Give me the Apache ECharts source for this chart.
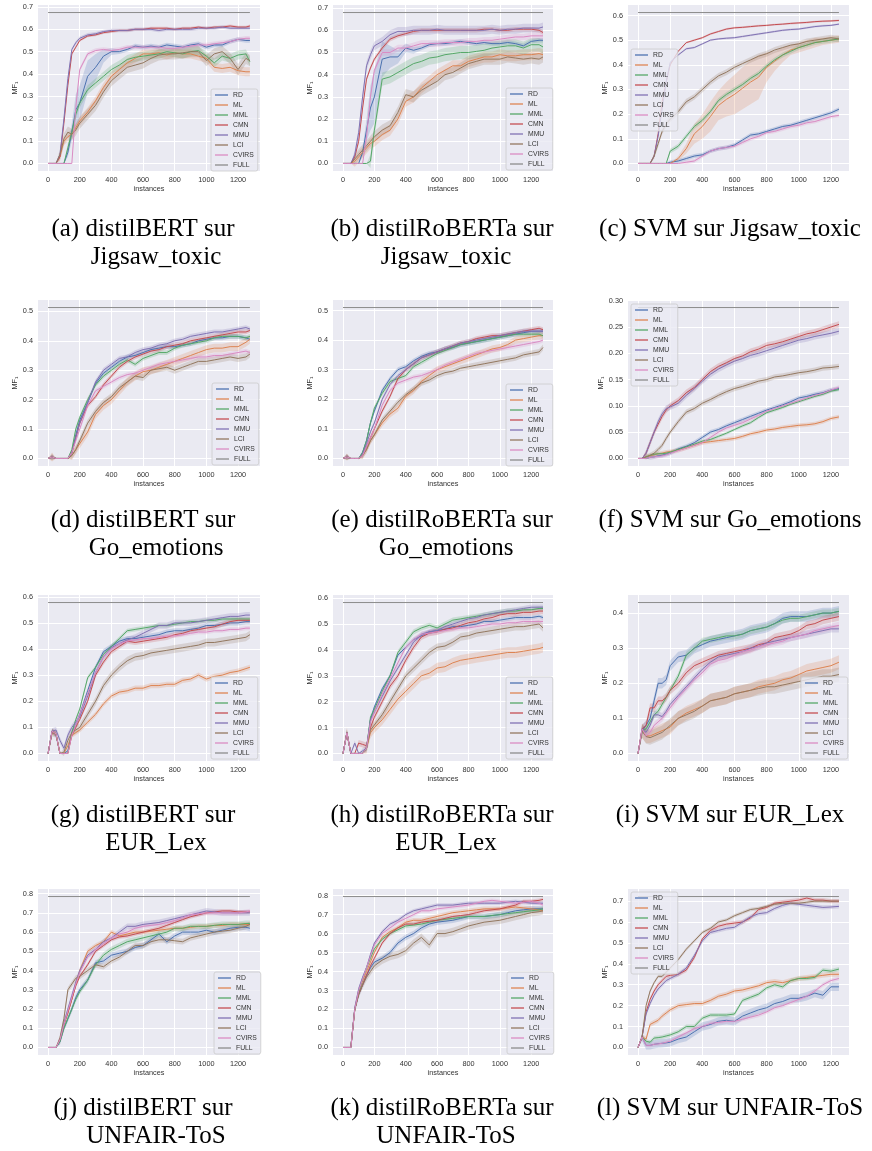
<!DOCTYPE html>
<html>
<head>
<meta charset="utf-8">
<script src="https://cdn.jsdelivr.net/npm/echarts@6/dist/echarts.min.js"></script>
<style>
html,body{margin:0;padding:0;background:#fff;}
#chart{width:872px;height:1151px;}
</style>
</head>
<body>
<div id="chart"></div>
<script>
// ---------------- DATA ----------------
const SERIES_NAMES = ['RD','ML','MML','CMN','MMU','LCI','CVIRS','FULL'];
const COLORS = ['#4c72b0','#dd8452','#55a868','#c44e52','#8172b3','#937860','#da8bc3','#8c8c8c'];

// instances (x) sampled for transformer models and SVM
const X_TRANSFORMER = [0,25,50,75,100,125,150,175,200,250,300,350,400,450,500,550,600,650,700,750,800,850,900,950,1000,1050,1100,1150,1200,1250,1275];
const X_SVM = [0,25,50,75,100,125,150,175,200,250,300,350,400,450,500,550,600,650,700,750,800,850,900,950,1000,1050,1100,1150,1200,1250];
const X_TICKS = [0,200,400,600,800,1000,1200];

const Y_TICKS_08 = [0,0.1,0.2,0.3,0.4,0.5,0.6,0.7,0.8];
const Y_TICKS_07 = [0,0.1,0.2,0.3,0.4,0.5,0.6,0.7];
const Y_TICKS_06 = [0,0.1,0.2,0.3,0.4,0.5,0.6];
const Y_TICKS_05 = [0,0.1,0.2,0.3,0.4,0.5];
const Y_TICKS_04 = [0,0.1,0.2,0.3,0.4];
const Y_TICKS_030 = [0,0.05,0.10,0.15,0.20,0.25,0.30];

// FULL (whole training set) score per panel a..l
const FULL_SCORES = [0.675,0.68,0.612,0.513,0.51,0.287,0.578,0.583,0.43,0.785,0.795,0.722];

const CAPTIONS = [
  ['(a) distilBERT sur','Jigsaw_toxic'],
  ['(b) distilRoBERTa sur','Jigsaw_toxic'],
  ['(c) SVM sur Jigsaw_toxic'],
  ['(d) distilBERT sur','Go_emotions'],
  ['(e) distilRoBERTa sur','Go_emotions'],
  ['(f) SVM sur Go_emotions'],
  ['(g) distilBERT sur','EUR_Lex'],
  ['(h) distilRoBERTa sur','EUR_Lex'],
  ['(i) SVM sur EUR_Lex'],
  ['(j) distilBERT sur','UNFAIR-ToS'],
  ['(k) distilRoBERTa sur','UNFAIR-ToS'],
  ['(l) SVM sur UNFAIR-ToS']
];

// (a) distilBERT / Jigsaw_toxic
const VALUES_A = {
  RD:   [0,0,0,0,0,0.05,0.14,0.24,0.27,0.39,0.43,0.48,0.50,0.50,0.51,0.525,0.52,0.525,0.52,0.53,0.525,0.52,0.53,0.535,0.52,0.53,0.53,0.545,0.555,0.55,0.55],
  ML:   [0,0,0,0.03,0.10,0.12,0.13,0.16,0.19,0.23,0.28,0.34,0.39,0.42,0.45,0.47,0.49,0.49,0.495,0.485,0.495,0.49,0.49,0.48,0.47,0.43,0.425,0.43,0.415,0.41,0.41],
  MML:  [0,0,0,0,0,0.07,0.14,0.22,0.27,0.33,0.36,0.39,0.42,0.44,0.465,0.475,0.48,0.485,0.49,0.5,0.495,0.49,0.5,0.505,0.48,0.45,0.48,0.47,0.485,0.49,0.455],
  CMN:  [0,0,0,0.03,0.18,0.35,0.49,0.52,0.55,0.57,0.575,0.585,0.59,0.595,0.595,0.6,0.6,0.605,0.605,0.605,0.6,0.605,0.605,0.61,0.605,0.61,0.61,0.615,0.61,0.61,0.615],
  MMU:  [0,0,0,0.04,0.2,0.38,0.51,0.54,0.56,0.575,0.58,0.59,0.595,0.595,0.595,0.6,0.6,0.6,0.595,0.6,0.6,0.6,0.6,0.605,0.605,0.605,0.61,0.605,0.605,0.605,0.605],
  LCI:  [0,0,0,0.04,0.11,0.14,0.13,0.15,0.18,0.22,0.26,0.32,0.37,0.4,0.43,0.44,0.45,0.47,0.485,0.49,0.49,0.495,0.5,0.5,0.46,0.49,0.5,0.47,0.42,0.47,0.46],
  CVIRS:[0,0,0,0,0,0,0,0.25,0.42,0.49,0.505,0.51,0.505,0.51,0.52,0.52,0.52,0.52,0.52,0.515,0.515,0.52,0.525,0.53,0.53,0.535,0.54,0.545,0.555,0.56,0.56]
};
// (b) distilRoBERTa / Jigsaw_toxic
const VALUES_B = {
  RD:   [0,0,0,0,0,0.05,0.15,0.25,0.3,0.47,0.48,0.48,0.52,0.51,0.52,0.535,0.54,0.54,0.545,0.55,0.545,0.54,0.545,0.54,0.54,0.545,0.54,0.53,0.55,0.555,0.555],
  ML:   [0,0,0,0.01,0.03,0.05,0.07,0.09,0.1,0.13,0.15,0.2,0.28,0.3,0.34,0.37,0.4,0.42,0.44,0.44,0.46,0.47,0.48,0.48,0.49,0.485,0.485,0.49,0.49,0.495,0.49],
  MML:  [0,0,0,0,0,0,0,0.01,0.15,0.38,0.39,0.41,0.43,0.45,0.46,0.475,0.48,0.49,0.495,0.5,0.5,0.505,0.51,0.52,0.525,0.53,0.53,0.52,0.535,0.535,0.525],
  CMN:  [0,0,0,0.03,0.1,0.25,0.38,0.43,0.47,0.52,0.56,0.575,0.585,0.595,0.6,0.6,0.6,0.6,0.6,0.6,0.6,0.6,0.605,0.605,0.6,0.6,0.605,0.605,0.605,0.6,0.59],
  MMU:  [0,0,0,0.04,0.14,0.3,0.44,0.49,0.53,0.55,0.58,0.595,0.595,0.6,0.6,0.6,0.605,0.6,0.6,0.6,0.6,0.6,0.6,0.605,0.6,0.605,0.605,0.61,0.61,0.61,0.615],
  LCI:  [0,0,0,0.02,0.04,0.06,0.08,0.1,0.12,0.15,0.17,0.23,0.31,0.3,0.33,0.35,0.37,0.4,0.41,0.43,0.45,0.46,0.47,0.47,0.47,0.48,0.475,0.47,0.475,0.47,0.48],
  CVIRS:[0,0,0,0,0,0,0.12,0.3,0.42,0.5,0.5,0.52,0.52,0.53,0.54,0.54,0.54,0.545,0.545,0.545,0.55,0.55,0.555,0.555,0.56,0.565,0.57,0.57,0.575,0.575,0.575]
};
// (c) SVM / Jigsaw_toxic
const VALUES_C = {
  RD:   [0,0,0,0,0,0,0,0,0.005,0.01,0.02,0.03,0.035,0.05,0.06,0.065,0.075,0.095,0.115,0.12,0.13,0.14,0.15,0.155,0.165,0.175,0.185,0.195,0.205,0.22],
  ML:   [0,0,0,0,0,0,0,0,0,0.02,0.06,0.12,0.15,0.19,0.235,0.26,0.28,0.305,0.33,0.35,0.39,0.415,0.44,0.46,0.47,0.48,0.49,0.495,0.5,0.505],
  MML:  [0,0,0,0,0,0,0,0,0.05,0.07,0.11,0.15,0.175,0.21,0.255,0.28,0.3,0.32,0.345,0.365,0.395,0.42,0.44,0.455,0.47,0.48,0.49,0.495,0.5,0.505],
  CMN:  [0,0,0,0,0.03,0.12,0.25,0.33,0.4,0.455,0.49,0.5,0.51,0.525,0.535,0.545,0.55,0.552,0.555,0.558,0.56,0.563,0.565,0.568,0.57,0.572,0.575,0.577,0.578,0.58],
  MMU:  [0,0,0,0,0.03,0.11,0.22,0.33,0.41,0.44,0.465,0.47,0.485,0.5,0.505,0.508,0.51,0.515,0.52,0.525,0.53,0.535,0.54,0.543,0.545,0.55,0.555,0.558,0.56,0.565],
  LCI:  [0,0,0,0,0.03,0.08,0.13,0.16,0.18,0.21,0.25,0.27,0.3,0.33,0.355,0.37,0.39,0.405,0.42,0.435,0.445,0.46,0.47,0.48,0.485,0.495,0.5,0.505,0.51,0.505],
  CVIRS:[0,0,0,0,0,0,0,0,0,0,0.005,0.01,0.03,0.05,0.06,0.065,0.07,0.085,0.1,0.11,0.125,0.13,0.14,0.15,0.155,0.165,0.17,0.18,0.19,0.195]
};
// (d) distilBERT / Go_emotions
const VALUES_D = {
  RD:   [0,0.005,0,0,0,0,0.02,0.08,0.13,0.19,0.255,0.29,0.31,0.33,0.345,0.35,0.36,0.37,0.375,0.38,0.38,0.385,0.39,0.4,0.405,0.41,0.41,0.415,0.415,0.41,0.405],
  ML:   [0,0.005,0,0,0,0,0.01,0.03,0.05,0.09,0.15,0.18,0.2,0.23,0.26,0.28,0.295,0.3,0.31,0.32,0.33,0.34,0.35,0.36,0.37,0.375,0.375,0.38,0.38,0.395,0.405],
  MML:  [0,0.005,0,0,0,0,0.03,0.1,0.14,0.2,0.25,0.28,0.3,0.32,0.335,0.32,0.34,0.35,0.36,0.36,0.375,0.385,0.39,0.395,0.4,0.41,0.415,0.415,0.415,0.41,0.415],
  CMN:  [0,0.005,0,0,0,0,0.02,0.07,0.12,0.18,0.21,0.25,0.28,0.31,0.33,0.345,0.355,0.365,0.37,0.38,0.385,0.39,0.4,0.405,0.41,0.415,0.42,0.425,0.43,0.43,0.435],
  MMU:  [0,0.005,0,0,0,0,0.02,0.07,0.12,0.19,0.26,0.3,0.32,0.34,0.345,0.36,0.37,0.375,0.385,0.39,0.4,0.405,0.415,0.42,0.425,0.43,0.43,0.435,0.44,0.445,0.44],
  LCI:  [0,0.005,0,0,0,0,0.01,0.03,0.06,0.12,0.16,0.19,0.21,0.24,0.26,0.28,0.275,0.3,0.305,0.31,0.3,0.31,0.32,0.33,0.33,0.335,0.34,0.345,0.34,0.345,0.355],
  CVIRS:[0,0.005,0,0,0,0,0.02,0.06,0.1,0.18,0.23,0.245,0.26,0.275,0.285,0.29,0.3,0.31,0.32,0.325,0.33,0.335,0.34,0.345,0.345,0.35,0.35,0.355,0.36,0.365,0.36]
};
// (e) distilRoBERTa / Go_emotions
const VALUES_E = {
  RD:   [0,0.005,0,0,0,0.02,0.06,0.12,0.16,0.23,0.27,0.3,0.31,0.33,0.345,0.355,0.36,0.37,0.375,0.385,0.39,0.395,0.4,0.405,0.41,0.415,0.42,0.425,0.43,0.43,0.43],
  ML:   [0,0.005,0,0,0,0.01,0.03,0.06,0.08,0.12,0.15,0.17,0.21,0.23,0.26,0.28,0.3,0.31,0.32,0.33,0.34,0.35,0.36,0.37,0.375,0.385,0.4,0.405,0.41,0.415,0.415],
  MML:  [0,0.005,0,0,0,0.02,0.06,0.12,0.17,0.22,0.26,0.27,0.28,0.31,0.325,0.34,0.355,0.365,0.375,0.385,0.39,0.395,0.4,0.405,0.41,0.415,0.42,0.42,0.42,0.42,0.415],
  CMN:  [0,0.005,0,0,0,0.01,0.04,0.07,0.1,0.16,0.21,0.27,0.3,0.32,0.34,0.35,0.36,0.37,0.38,0.39,0.395,0.405,0.41,0.415,0.415,0.42,0.425,0.43,0.435,0.44,0.435],
  MMU:  [0,0.005,0,0,0,0.015,0.05,0.09,0.12,0.2,0.25,0.28,0.3,0.32,0.34,0.35,0.36,0.37,0.38,0.39,0.395,0.4,0.405,0.41,0.415,0.42,0.425,0.43,0.43,0.43,0.43],
  LCI:  [0,0.005,0,0,0,0.01,0.03,0.06,0.08,0.13,0.16,0.19,0.215,0.235,0.255,0.265,0.28,0.29,0.295,0.305,0.31,0.315,0.32,0.325,0.33,0.335,0.34,0.35,0.355,0.36,0.375],
  CVIRS:[0,0.005,0,0,0,0.01,0.04,0.07,0.1,0.18,0.23,0.255,0.265,0.275,0.28,0.29,0.3,0.315,0.325,0.335,0.345,0.355,0.36,0.365,0.37,0.375,0.38,0.385,0.39,0.395,0.4]
};
// (f) SVM / Go_emotions
const VALUES_F = {
  RD:   [0,0,0,0.002,0.003,0.005,0.006,0.008,0.01,0.018,0.023,0.03,0.04,0.05,0.055,0.062,0.068,0.074,0.08,0.086,0.092,0.097,0.102,0.108,0.115,0.118,0.122,0.125,0.13,0.133],
  ML:   [0,0,0.003,0.005,0.007,0.009,0.01,0.012,0.013,0.016,0.02,0.025,0.03,0.032,0.034,0.036,0.038,0.042,0.047,0.05,0.054,0.056,0.059,0.061,0.063,0.064,0.066,0.07,0.076,0.079],
  MML:  [0,0,0.003,0.006,0.008,0.009,0.009,0.01,0.012,0.017,0.022,0.027,0.033,0.036,0.042,0.048,0.055,0.062,0.068,0.078,0.087,0.092,0.097,0.103,0.108,0.113,0.118,0.122,0.128,0.131],
  CMN:  [0,0,0.01,0.03,0.05,0.065,0.08,0.092,0.1,0.11,0.125,0.135,0.15,0.165,0.175,0.182,0.19,0.195,0.203,0.208,0.215,0.218,0.222,0.227,0.232,0.237,0.24,0.245,0.25,0.255],
  MMU:  [0,0,0.01,0.03,0.05,0.07,0.085,0.095,0.098,0.105,0.12,0.133,0.147,0.16,0.17,0.178,0.185,0.19,0.196,0.2,0.205,0.21,0.215,0.22,0.225,0.228,0.232,0.235,0.238,0.242],
  LCI:  [0,0,0.003,0.006,0.01,0.017,0.025,0.038,0.05,0.07,0.088,0.095,0.105,0.112,0.12,0.127,0.133,0.137,0.142,0.147,0.15,0.155,0.157,0.16,0.163,0.165,0.168,0.172,0.173,0.175],
  CVIRS:[0,0,0,0.002,0.003,0.004,0.005,0.007,0.01,0.015,0.02,0.025,0.03,0.04,0.05,0.058,0.063,0.068,0.075,0.082,0.09,0.095,0.1,0.105,0.11,0.115,0.12,0.124,0.13,0.135]
};
// (g) distilBERT / EUR_Lex
const VALUES_G = {
  RD:   [0,0.085,0.07,0,0,0.01,0.08,0.11,0.15,0.24,0.33,0.39,0.41,0.43,0.44,0.44,0.445,0.45,0.455,0.465,0.47,0.47,0.475,0.48,0.49,0.49,0.495,0.5,0.5,0.505,0.505],
  ML:   [0,0.08,0.075,0,0,0.03,0.07,0.08,0.09,0.12,0.15,0.19,0.22,0.235,0.24,0.25,0.25,0.26,0.26,0.265,0.265,0.28,0.285,0.3,0.285,0.295,0.3,0.31,0.315,0.325,0.33],
  MML:  [0,0.085,0.075,0,0,0,0.08,0.13,0.17,0.29,0.33,0.38,0.41,0.44,0.47,0.475,0.48,0.485,0.49,0.49,0.495,0.5,0.505,0.505,0.51,0.51,0.515,0.515,0.515,0.515,0.515],
  CMN:  [0,0.085,0.075,0,0,0,0.07,0.1,0.13,0.2,0.3,0.35,0.39,0.41,0.43,0.425,0.43,0.435,0.44,0.445,0.455,0.46,0.47,0.475,0.48,0.485,0.495,0.505,0.51,0.51,0.51],
  MMU:  [0,0.085,0.09,0.05,0.02,0.07,0.1,0.12,0.14,0.22,0.31,0.37,0.405,0.42,0.435,0.445,0.46,0.475,0.49,0.49,0.5,0.5,0.5,0.505,0.51,0.515,0.52,0.525,0.525,0.53,0.53],
  LCI:  [0,0.08,0.075,0,0.005,0.05,0.08,0.09,0.1,0.15,0.2,0.26,0.3,0.33,0.355,0.37,0.375,0.385,0.39,0.395,0.4,0.405,0.41,0.415,0.425,0.425,0.43,0.435,0.44,0.445,0.455],
  CVIRS:[0,0.085,0.075,0,0,0,0.07,0.11,0.15,0.23,0.31,0.37,0.4,0.42,0.43,0.435,0.44,0.44,0.445,0.45,0.45,0.455,0.46,0.465,0.465,0.47,0.47,0.475,0.475,0.48,0.48]
};
// (h) distilRoBERTa / EUR_Lex
const VALUES_H = {
  RD:   [0,0.08,0,0,0,0,0.02,0.13,0.18,0.25,0.3,0.38,0.41,0.44,0.455,0.47,0.475,0.48,0.49,0.49,0.495,0.5,0.51,0.51,0.515,0.52,0.525,0.525,0.525,0.53,0.525],
  ML:   [0,0.08,0,0,0,0,0.02,0.08,0.1,0.13,0.17,0.21,0.24,0.27,0.3,0.31,0.33,0.335,0.35,0.36,0.365,0.37,0.375,0.38,0.385,0.39,0.39,0.395,0.4,0.405,0.41],
  MML:  [0,0.08,0,0,0,0,0.02,0.14,0.17,0.24,0.3,0.39,0.43,0.47,0.485,0.495,0.485,0.5,0.515,0.52,0.525,0.53,0.535,0.54,0.545,0.55,0.55,0.555,0.555,0.56,0.56],
  CMN:  [0,0.08,0,0,0.04,0.035,0.03,0.1,0.14,0.2,0.26,0.3,0.36,0.41,0.45,0.465,0.47,0.48,0.485,0.495,0.505,0.51,0.52,0.525,0.535,0.54,0.54,0.545,0.545,0.55,0.55],
  MMU:  [0,0.08,0,0.04,0,0.01,0.02,0.13,0.16,0.22,0.28,0.33,0.38,0.43,0.46,0.47,0.475,0.49,0.5,0.51,0.52,0.525,0.535,0.54,0.545,0.55,0.555,0.56,0.565,0.565,0.565],
  LCI:  [0,0.08,0,0,0,0,0.02,0.09,0.11,0.15,0.2,0.25,0.3,0.33,0.36,0.39,0.41,0.415,0.43,0.45,0.455,0.465,0.47,0.475,0.48,0.485,0.49,0.49,0.495,0.5,0.485],
  CVIRS:[0,0.08,0,0,0,0,0.02,0.12,0.16,0.23,0.29,0.35,0.41,0.44,0.46,0.465,0.47,0.475,0.48,0.485,0.485,0.49,0.495,0.5,0.5,0.505,0.505,0.51,0.51,0.51,0.51]
};
// (i) SVM / EUR_Lex
const VALUES_I = {
  RD:   [0,0.065,0.08,0.1,0.15,0.2,0.2,0.21,0.25,0.275,0.28,0.3,0.31,0.32,0.325,0.33,0.335,0.34,0.35,0.355,0.36,0.37,0.385,0.39,0.39,0.39,0.395,0.4,0.4,0.405],
  ML:   [0,0.065,0.05,0.05,0.055,0.06,0.065,0.07,0.075,0.1,0.115,0.125,0.135,0.15,0.155,0.16,0.17,0.175,0.18,0.19,0.195,0.2,0.21,0.215,0.225,0.235,0.24,0.245,0.25,0.26],
  MML:  [0,0.065,0.07,0.09,0.11,0.12,0.14,0.16,0.18,0.22,0.28,0.3,0.32,0.325,0.33,0.335,0.335,0.34,0.35,0.355,0.36,0.37,0.38,0.385,0.385,0.39,0.395,0.4,0.4,0.405],
  CMN:  [0,0.07,0.08,0.13,0.13,0.15,0.15,0.16,0.18,0.2,0.23,0.25,0.26,0.27,0.28,0.285,0.29,0.295,0.3,0.31,0.315,0.33,0.335,0.34,0.35,0.365,0.37,0.38,0.385,0.39],
  MMU:  [0,0.07,0.06,0.08,0.11,0.11,0.105,0.12,0.14,0.165,0.19,0.215,0.24,0.26,0.275,0.28,0.285,0.29,0.3,0.305,0.315,0.32,0.325,0.33,0.335,0.34,0.345,0.35,0.355,0.355],
  LCI:  [0,0.065,0.048,0.045,0.05,0.055,0.06,0.07,0.08,0.1,0.11,0.12,0.135,0.15,0.155,0.16,0.17,0.175,0.18,0.185,0.19,0.19,0.195,0.2,0.205,0.21,0.215,0.22,0.22,0.225],
  CVIRS:[0,0.07,0.05,0.06,0.08,0.09,0.1,0.115,0.13,0.16,0.185,0.21,0.23,0.255,0.265,0.27,0.28,0.29,0.295,0.305,0.31,0.315,0.32,0.33,0.335,0.34,0.35,0.355,0.36,0.365]
};
// (j) distilBERT / UNFAIR-ToS
const VALUES_J = {
  RD:   [0,0,0,0.03,0.1,0.15,0.2,0.26,0.3,0.35,0.44,0.45,0.48,0.49,0.5,0.52,0.53,0.56,0.59,0.55,0.58,0.6,0.6,0.6,0.61,0.6,0.61,0.62,0.625,0.625,0.62],
  ML:   [0,0,0,0.04,0.12,0.18,0.25,0.33,0.4,0.5,0.53,0.55,0.6,0.58,0.59,0.6,0.6,0.605,0.61,0.615,0.62,0.62,0.625,0.63,0.63,0.635,0.635,0.64,0.64,0.64,0.64],
  MML:  [0,0,0,0.03,0.1,0.15,0.2,0.25,0.29,0.35,0.43,0.48,0.51,0.53,0.55,0.56,0.57,0.58,0.59,0.6,0.62,0.62,0.63,0.63,0.63,0.635,0.64,0.64,0.64,0.645,0.645],
  CMN:  [0,0,0,0.04,0.12,0.18,0.25,0.32,0.37,0.43,0.5,0.53,0.56,0.575,0.58,0.59,0.6,0.61,0.62,0.635,0.65,0.665,0.68,0.69,0.7,0.705,0.71,0.71,0.705,0.705,0.705],
  MMU:  [0,0,0,0.04,0.13,0.2,0.27,0.34,0.4,0.48,0.51,0.55,0.57,0.6,0.63,0.63,0.64,0.645,0.65,0.66,0.67,0.68,0.69,0.7,0.71,0.705,0.7,0.7,0.7,0.7,0.7],
  LCI:  [0,0,0,0.05,0.15,0.3,0.33,0.36,0.37,0.4,0.43,0.42,0.45,0.47,0.5,0.53,0.53,0.55,0.56,0.56,0.555,0.55,0.57,0.58,0.59,0.6,0.605,0.61,0.62,0.63,0.64],
  CVIRS:[0,0,0,0.04,0.12,0.19,0.26,0.33,0.39,0.47,0.51,0.54,0.57,0.59,0.6,0.62,0.63,0.635,0.64,0.65,0.66,0.675,0.69,0.695,0.7,0.7,0.7,0.7,0.7,0.705,0.71]
};
// (k) distilRoBERTa / UNFAIR-ToS
const VALUES_K = {
  RD:   [0,0,0,0.2,0.28,0.33,0.38,0.42,0.45,0.47,0.5,0.55,0.58,0.6,0.63,0.65,0.66,0.665,0.67,0.68,0.69,0.69,0.69,0.695,0.7,0.71,0.72,0.725,0.73,0.73,0.73],
  ML:   [0,0,0,0.2,0.3,0.35,0.4,0.45,0.5,0.58,0.61,0.63,0.66,0.67,0.67,0.68,0.69,0.7,0.71,0.715,0.72,0.725,0.73,0.73,0.73,0.735,0.74,0.735,0.73,0.725,0.72],
  MML:  [0,0,0,0.2,0.29,0.36,0.42,0.47,0.52,0.57,0.6,0.62,0.64,0.645,0.65,0.66,0.67,0.675,0.68,0.685,0.69,0.69,0.69,0.695,0.7,0.705,0.71,0.715,0.72,0.725,0.73],
  CMN:  [0,0,0,0.2,0.28,0.33,0.38,0.43,0.47,0.55,0.6,0.63,0.65,0.65,0.66,0.665,0.67,0.68,0.69,0.695,0.7,0.71,0.72,0.725,0.73,0.74,0.75,0.77,0.77,0.775,0.78],
  MMU:  [0,0,0,0.21,0.31,0.37,0.42,0.49,0.55,0.61,0.65,0.67,0.7,0.72,0.73,0.74,0.75,0.75,0.75,0.755,0.76,0.76,0.76,0.76,0.76,0.765,0.77,0.765,0.76,0.76,0.76],
  LCI:  [0,0,0,0.2,0.28,0.33,0.37,0.4,0.43,0.46,0.48,0.49,0.51,0.55,0.58,0.54,0.6,0.6,0.61,0.625,0.64,0.65,0.66,0.665,0.67,0.68,0.69,0.7,0.71,0.715,0.72],
  CVIRS:[0,0,0,0.2,0.3,0.36,0.42,0.48,0.54,0.6,0.63,0.66,0.68,0.7,0.72,0.72,0.73,0.735,0.74,0.745,0.75,0.76,0.77,0.775,0.77,0.765,0.76,0.765,0.77,0.76,0.75]
};
// (l) SVM / UNFAIR-ToS
const VALUES_L = {
  RD:   [0,0.05,0.01,0.01,0.015,0.018,0.02,0.022,0.025,0.04,0.05,0.075,0.1,0.11,0.125,0.13,0.125,0.15,0.165,0.18,0.19,0.21,0.22,0.235,0.235,0.245,0.26,0.25,0.29,0.29],
  ML:   [0,0.05,0.04,0.11,0.12,0.13,0.15,0.165,0.18,0.2,0.205,0.21,0.21,0.225,0.245,0.255,0.27,0.275,0.285,0.295,0.31,0.315,0.31,0.32,0.33,0.335,0.34,0.345,0.35,0.35],
  MML:  [0,0.05,0.03,0.025,0.045,0.047,0.05,0.055,0.06,0.075,0.1,0.1,0.14,0.155,0.155,0.155,0.16,0.225,0.24,0.255,0.285,0.3,0.29,0.32,0.33,0.33,0.335,0.37,0.365,0.375],
  CMN:  [0,0.05,0.17,0.23,0.27,0.3,0.32,0.34,0.345,0.35,0.37,0.43,0.52,0.56,0.58,0.59,0.595,0.6,0.62,0.66,0.67,0.69,0.695,0.7,0.705,0.715,0.705,0.705,0.7,0.7],
  MMU:  [0,0.05,0.16,0.21,0.25,0.28,0.3,0.32,0.33,0.35,0.38,0.44,0.51,0.55,0.56,0.57,0.575,0.6,0.625,0.64,0.645,0.665,0.68,0.69,0.685,0.68,0.675,0.67,0.672,0.675],
  LCI:  [0,0.05,0.2,0.27,0.31,0.34,0.34,0.36,0.38,0.42,0.47,0.51,0.55,0.57,0.6,0.61,0.63,0.645,0.66,0.665,0.675,0.685,0.69,0.69,0.69,0.695,0.7,0.7,0.7,0.7],
  CVIRS:[0,0.05,0.01,0.01,0.015,0.017,0.02,0.025,0.03,0.05,0.07,0.09,0.1,0.115,0.12,0.125,0.125,0.135,0.145,0.155,0.17,0.19,0.2,0.215,0.23,0.245,0.27,0.3,0.32,0.33]
};

// half-width of the shaded confidence band (RD, ML, MML, CMN, MMU, LCI, CVIRS)
const BAND_A_RD = [0,0,0,0,0,0.02,0.04,0.07,0.08,0.07,0.06,0.03,0.015,0.01,0.01,0.01,0.01,0.01,0.01,0.01,0.01,0.01,0.01,0.01,0.01,0.01,0.01,0.01,0.01,0.01,0.01];
const BAND_B_RD = [0,0,0,0,0,0.02,0.05,0.1,0.12,0.08,0.05,0.03,0.02,0.015,0.01,0.01,0.01,0.01,0.01,0.01,0.01,0.01,0.01,0.01,0.01,0.01,0.01,0.01,0.01,0.01,0.01];
const BAND_C_ML = [0,0,0,0,0,0,0,0,0,0.01,0.02,0.04,0.05,0.06,0.06,0.07,0.08,0.085,0.09,0.09,0.06,0.04,0.03,0.02,0.02,0.02,0.02,0.015,0.015,0.015];
const BANDS = [
  [BAND_A_RD,0.02,0.02,0.006,0.008,0.025,0.01],
  [BAND_B_RD,0.025,0.03,0.01,0.02,0.025,0.015],
  [0.008,BAND_C_ML,0.01,0.004,0.004,0.012,0.008],
  [0.008,0.015,0.008,0.008,0.008,0.012,0.008],
  [0.008,0.012,0.008,0.008,0.008,0.01,0.008],
  [0.004,0.004,0.003,0.006,0.006,0.005,0.004],
  [0.01,0.01,0.008,0.01,0.012,0.015,0.008],
  [0.008,0.02,0.01,0.012,0.01,0.015,0.01],
  [0.015,0.02,0.01,0.012,0.01,0.02,0.01],
  [0.015,0.012,0.015,0.01,0.015,0.015,0.012],
  [0.015,0.012,0.012,0.01,0.01,0.02,0.01],
  [0.02,0.012,0.01,0.01,0.01,0.008,0.01]
];

// ---------------- LAYOUT ----------------
const PANEL_VALUES = [VALUES_A,VALUES_B,VALUES_C,VALUES_D,VALUES_E,VALUES_F,VALUES_G,VALUES_H,VALUES_I,VALUES_J,VALUES_K,VALUES_L];
const PANEL_X = [X_TRANSFORMER,X_TRANSFORMER,X_SVM,X_TRANSFORMER,X_TRANSFORMER,X_SVM,X_TRANSFORMER,X_TRANSFORMER,X_SVM,X_TRANSFORMER,X_TRANSFORMER,X_SVM];
const PANEL_YTICKS = [Y_TICKS_07,Y_TICKS_07,Y_TICKS_06,Y_TICKS_05,Y_TICKS_05,Y_TICKS_030,Y_TICKS_06,Y_TICKS_06,Y_TICKS_04,Y_TICKS_08,Y_TICKS_08,Y_TICKS_07];
const COL_LEFT = [38, 333, 628];
const COL_WIDTH = [222, 220, 221];
const ROW_TOP = [5, 300, 595, 889];
const ROW_H = 166;
const LEGEND_POS = [[211,89],[506,88],[631,49],[212,383],[506,384],[631,304],[211,677],[506,677],[801,677],[214,972],[507,972],[631,892]];
const CAP_Y = [229, 520, 815, 1108];
const CAP_LINE2 = 28;
const CAP_CX1 = [143, 442, 730];
const CAP_CX2 = [156, 446, 730];

const FONT = '"Liberation Sans", Arial, sans-serif';
const TXT = '#333333';

const option = {
  animation: false,
  grid: [], xAxis: [], yAxis: [], series: [], legend: [], graphic: []
};

function bandRenderer(color) {
  return function (params, api) {
    if (params.dataIndex !== 0) return null;
    const data = params.context.bandData;
    const upper = [], lower = [];
    for (let i = 0; i < data.length; i++) {
      upper.push(api.coord([data[i][0], data[i][2]]));
      lower.push(api.coord([data[i][0], data[i][1]]));
    }
    const points = upper.concat(lower.reverse());
    return {
      type: 'polygon',
      shape: {points},
      style: {fill: color, opacity: 0.22, stroke: null},
      silent: true
    };
  };
}

PANEL_VALUES.forEach((vals, k) => {
  const r = Math.floor(k / 3), c = k % 3;
  const xs = PANEL_X[k];
  const xmax = xs[xs.length - 1];
  const full = FULL_SCORES[k];
  const yt = PANEL_YTICKS[k];
  const dec = (yt === Y_TICKS_030) ? 2 : 1;
  option.grid.push({
    left: COL_LEFT[c], top: ROW_TOP[r], width: COL_WIDTH[c], height: ROW_H,
    show: true, backgroundColor: '#eaeaf2', borderWidth: 0
  });
  option.xAxis.push({
    type: 'value', gridIndex: k, min: -0.05 * xmax, max: 1.05 * xmax,
    axisLine: {show: false},
    axisTick: {show: false, customValues: X_TICKS},
    axisLabel: {customValues: X_TICKS, fontSize: 7.3, color: TXT, margin: 5, fontFamily: FONT,
      formatter: v => String(Math.round(v))},
    splitLine: {show: true, lineStyle: {color: '#ffffff', width: 1}},
    name: 'instances', nameLocation: 'middle', nameGap: 14,
    nameTextStyle: {fontSize: 7.3, color: TXT, fontFamily: FONT}
  });
  option.yAxis.push({
    type: 'value', gridIndex: k, min: -0.05 * full, max: 1.05 * full,
    axisLine: {show: false},
    axisTick: {show: false, customValues: yt},
    axisLabel: {customValues: yt, fontSize: 7.3, color: TXT, margin: 5, fontFamily: FONT,
      formatter: v => Number(v).toFixed(dec)},
    splitLine: {show: true, lineStyle: {color: '#ffffff', width: 1}},
    name: 'MF\u2081', nameLocation: 'middle', nameGap: 19, nameRotate: 90,
    nameTextStyle: {fontSize: 7.3, color: TXT, fontFamily: FONT}
  });
  SERIES_NAMES.forEach((name, j) => {
    const color = COLORS[j];
    if (name === 'FULL') {
      option.series.push({
        name, type: 'line', xAxisIndex: k, yAxisIndex: k, silent: true,
        data: [[0, full], [xmax, full]], symbol: 'none',
        lineStyle: {color, width: 1}, itemStyle: {color}, z: 3
      });
      return;
    }
    const v = vals[name];
    if (v.length !== xs.length) throw new Error('length mismatch panel ' + k + ' ' + name + ' ' + v.length);
    const band = BANDS[k][j];
    if (Array.isArray(band) && band.length !== xs.length) throw new Error('band length mismatch panel ' + k + ' ' + name);
    const bw = v.map((y, i) => (y === 0 ? 0 : (Array.isArray(band) ? band[i] : band)));
    const bandData = xs.map((x, i) => [x, v[i] - bw[i], v[i] + bw[i]]);
    const render = bandRenderer(color);
    option.series.push({
      type: 'custom', xAxisIndex: k, yAxisIndex: k, silent: true, clip: true,
      data: bandData, encode: {x: 0, y: [1, 2]},
      renderItem: function (params, api) {
        params.context.bandData = bandData;
        return render(params, api);
      },
      z: 1
    });
    option.series.push({
      name, type: 'line', xAxisIndex: k, yAxisIndex: k, silent: true,
      data: xs.map((x, i) => [x, v[i]]), symbol: 'none',
      lineStyle: {color, width: 1}, itemStyle: {color}, z: 2
    });
  });
  option.legend.push({
    data: SERIES_NAMES, orient: 'vertical', left: LEGEND_POS[k][0], top: LEGEND_POS[k][1],
    icon: 'rect', itemWidth: 13, itemHeight: 1.3, itemGap: 2, padding: [2, 4, 2, 4],
    backgroundColor: 'rgba(234,234,242,0.8)', borderColor: '#cccccc', borderWidth: 0.8, borderRadius: 2,
    selectedMode: false,
    textStyle: {fontSize: 6.8, lineHeight: 8, color: TXT, fontFamily: FONT}
  });
  const cap = CAPTIONS[k];
  option.graphic.push({
    type: 'text', x: CAP_CX1[c], y: CAP_Y[r],
    style: {text: cap[0], fontSize: 25, fontFamily: '"Liberation Serif", serif', fill: '#000', align: 'center', verticalAlign: 'middle'}
  });
  if (cap.length > 1) {
    option.graphic.push({
      type: 'text', x: CAP_CX2[c], y: CAP_Y[r] + CAP_LINE2,
      style: {text: cap[1], fontSize: 25, fontFamily: '"Liberation Serif", serif', fill: '#000', align: 'center', verticalAlign: 'middle'}
    });
  }
});

const chart = echarts.init(document.getElementById('chart'), null, {renderer: 'canvas'});
chart.setOption(option);
</script>
</body>
</html>
